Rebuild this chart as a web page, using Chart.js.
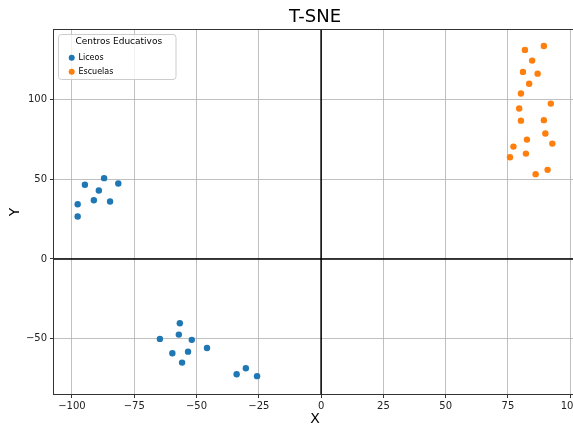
<!DOCTYPE html>
<html>
<head>
<meta charset="utf-8">
<title>T-SNE</title>
<script src="https://cdn.jsdelivr.net/npm/chart.js@4.4.1/dist/chart.umd.min.js"></script>
<style>
  html, body { margin: 0; padding: 0; background: #fff; overflow: hidden; }
  #wrap { width: 573px; height: 424px; overflow: hidden; }
</style>
</head>
<body>
<div id="wrap"><canvas id="tsneChart" width="590" height="424"></canvas></div>
<script>
(function () {
    'use strict';

    // t-SNE embedding, two groups of schools
    const liceosX = [-87.1, -94.8, -81.4, -89.2, -97.7, -91.2, -84.7, -97.7,
        -56.7, -57.1, -64.7, -51.9, -45.8, -59.7, -53.4, -55.8, -33.9, -30.2, -25.7];
    const liceosY = [50.7, 46.6, 47.3, 42.9, 34.3, 36.8, 36.0, 26.6,
        -40.4, -47.5, -50.2, -50.8, -55.9, -59.2, -58.2, -65.1, -72.4, -68.6, -73.6];
    const escuelasX = [89.4, 81.8, 84.7, 81.0, 86.9, 83.5, 80.2, 92.2, 79.5, 80.2,
        89.4, 90.0, 82.6, 92.8, 77.2, 82.2, 75.8, 90.9, 86.1];
    const escuelasY = [133.7, 131.2, 124.5, 117.4, 116.3, 110.0, 103.8, 97.5, 94.4, 86.8,
        87.1, 78.7, 74.9, 72.4, 70.5, 66.1, 63.8, 55.9, 53.2];

    const xTicks = [-100, -75, -50, -25, 0, 25, 50, 75, 100];
    const yTicks = [-50, 0, 50, 100];

    const BLUE = '#1f77b4';
    const ORANGE = '#ff7f0e';
    const FONT = "'DejaVu Sans', sans-serif";

    function toPoints(xs, ys) {
        return xs.map(function (x, i) { return { x: x, y: ys[i] }; });
    }

    function fmt(v) {
        return v < 0 ? '\u2212' + Math.abs(v) : String(v);
    }

    function roundRect(ctx, x, y, w, h, r) {
        ctx.beginPath();
        ctx.moveTo(x + r, y);
        ctx.lineTo(x + w - r, y);
        ctx.quadraticCurveTo(x + w, y, x + w, y + r);
        ctx.lineTo(x + w, y + h - r);
        ctx.quadraticCurveTo(x + w, y + h, x + w - r, y + h);
        ctx.lineTo(x + r, y + h);
        ctx.quadraticCurveTo(x, y + h, x, y + h - r);
        ctx.lineTo(x, y + r);
        ctx.quadraticCurveTo(x, y, x + r, y);
        ctx.closePath();
    }

    // zero lines, frame, title and legend box
    const decorPlugin = {
        id: 'decor',
        beforeDatasetsDraw(chart) {
            const ctx = chart.ctx;
            const a = chart.chartArea;
            const x0 = chart.scales.x.getPixelForValue(0);
            const y0 = chart.scales.y.getPixelForValue(0);
            ctx.save();
            ctx.strokeStyle = '#000';
            ctx.lineWidth = 1.5;
            ctx.beginPath();
            ctx.moveTo(x0, a.top);
            ctx.lineTo(x0, a.bottom);
            ctx.moveTo(a.left, y0);
            ctx.lineTo(a.right, y0);
            ctx.stroke();
            ctx.restore();
        },
        afterDraw(chart) {
            const ctx = chart.ctx;
            const a = chart.chartArea;
            ctx.save();

            ctx.strokeStyle = '#333';
            ctx.lineWidth = 1;
            ctx.strokeRect(Math.round(a.left) - 0.5, Math.round(a.top) - 0.5,
                Math.round(a.right - a.left) + 1, Math.round(a.bottom - a.top) + 1);

            ctx.fillStyle = '#000';
            ctx.textAlign = 'center';
            ctx.textBaseline = 'middle';
            ctx.font = '18px ' + FONT;
            ctx.fillText('T-SNE', (a.left + a.right) / 2, 17.5);

            // legend
            const lx = 58.5, ly = 34.5, lw = 117.5, lh = 45;
            roundRect(ctx, lx, ly, lw, lh, 3);
            ctx.fillStyle = 'rgba(255,255,255,0.8)';
            ctx.fill();
            ctx.strokeStyle = '#cccccc';
            ctx.lineWidth = 1;
            ctx.stroke();

            ctx.fillStyle = '#000';
            ctx.font = '9px ' + FONT;
            ctx.fillText('Centros Educativos', lx + lw / 2 + 1.5, 42);

            ctx.textAlign = 'left';
            ctx.font = '8px ' + FONT;
            chart.data.datasets.forEach(function (ds, i) {
                const cy = 57.7 + i * 14;
                ctx.fillStyle = ds.backgroundColor;
                ctx.beginPath();
                ctx.arc(71.7, cy, 3, 0, Math.PI * 2);
                ctx.fill();
                ctx.fillStyle = '#000';
                ctx.fillText(ds.label, 78.5, cy);
            });
            ctx.restore();
        }
    };

    const tickFont = { family: FONT, size: 10 };

    new Chart(document.getElementById('tsneChart'), {
        type: 'scatter',
        data: {
            datasets: [
                {
                    label: 'Liceos',
                    data: toPoints(liceosX, liceosY),
                    backgroundColor: BLUE,
                    borderWidth: 0,
                    pointRadius: 3.2,
                },
                {
                    label: 'Escuelas',
                    data: toPoints(escuelasX, escuelasY),
                    backgroundColor: ORANGE,
                    borderWidth: 0,
                    pointRadius: 3.2,
                },
            ],
        },
        options: {
            responsive: false,
            animation: false,
            events: [],
            layout: { padding: { left: 0, right: 14, top: 30, bottom: 0 } },
            plugins: {
                legend: { display: false },
                title: { display: false },
                tooltip: { enabled: false },
            },
            scales: {
                x: {
                    type: 'linear',
                    min: -107.2,
                    max: 102.3,
                    afterBuildTicks: function (scale) {
                        scale.ticks = xTicks.map(function (v) { return { value: v }; });
                    },
                    afterFit: function (scale) { scale.height = 30; },
                    ticks: {
                        font: tickFont,
                        color: '#222',
                        padding: 2,
                        maxRotation: 0,
                        autoSkip: false,
                        callback: fmt,
                    },
                    grid: { color: '#b0b0b0', lineWidth: 0.8, tickLength: 4, tickColor: '#333', tickWidth: 1 },
                    border: { display: false },
                    title: {
                        display: true,
                        text: 'X',
                        color: '#000',
                        font: { family: FONT, size: 14, lineHeight: 1 },
                        padding: { top: 0, bottom: -2 },
                    },
                },
                y: {
                    type: 'linear',
                    min: -84.8,
                    max: 143.7,
                    afterBuildTicks: function (scale) {
                        scale.ticks = yTicks.map(function (v) { return { value: v }; });
                    },
                    afterFit: function (scale) { scale.width = 54; },
                    ticks: {
                        font: tickFont,
                        color: '#222',
                        padding: 3,
                        autoSkip: false,
                        callback: fmt,
                    },
                    grid: { color: '#b0b0b0', lineWidth: 0.8, tickLength: 4, tickColor: '#333', tickWidth: 1 },
                    border: { display: false },
                    title: {
                        display: true,
                        text: 'Y',
                        color: '#000',
                        font: { family: FONT, size: 14, lineHeight: 1 },
                        padding: { top: 8, bottom: 0 },
                    },
                },
            },
        },
        plugins: [decorPlugin],
    });
})();
</script>
</body>
</html>
